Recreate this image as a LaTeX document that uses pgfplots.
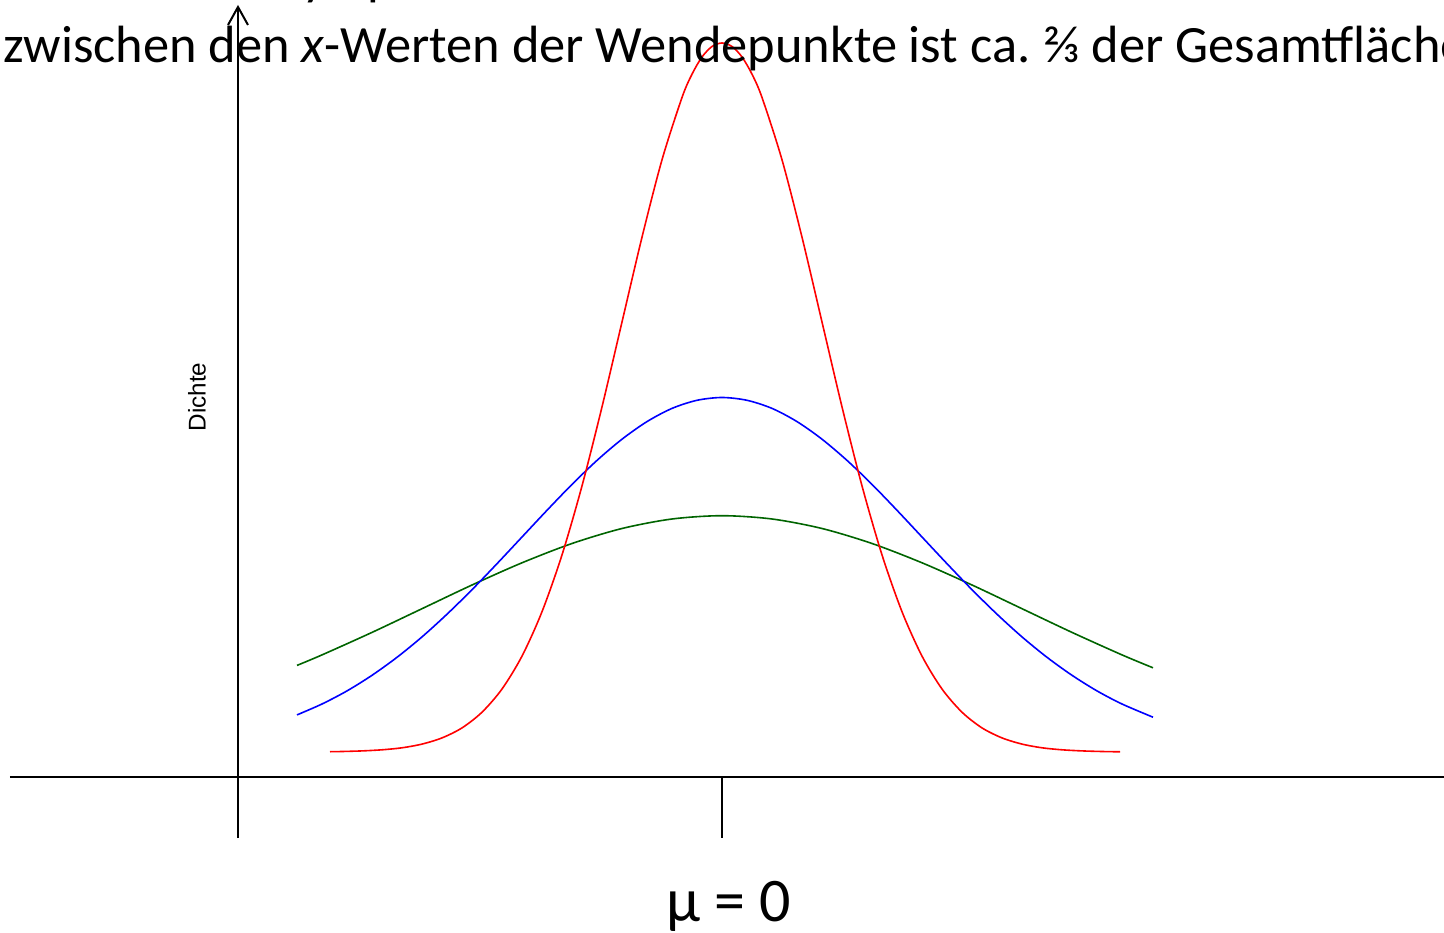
\documentclass[border=0pt]{standalone}
\usepackage{fontspec}
\setmainfont{Carlito}
\newfontfamily\arialfont{Liberation Sans}
\usepackage{pgfplots}
\pgfplotsset{compat=1.18}
\definecolor{rred}{RGB}{255,0,0}
\definecolor{rblue}{RGB}{0,0,255}
\definecolor{rgreen}{RGB}{0,100,0}
\begin{document}
\begin{tikzpicture}
\begin{axis}[
  at={(111pt,77.5pt)}, anchor=south west,
  x=50pt, y=0.5pt,
  xmin=-5, xmax=5, ymin=0, ymax=760,
  axis lines=none, clip=false,
  ticks=none,
]
% axes drawn as in the reference
\draw[line width=1pt] (axis cs:-7.12,0) -- (axis cs:7.22,0);
\draw[line width=1pt] (axis cs:-4.84,-61) -- (axis cs:-4.84,770);
\draw[line width=1pt] (axis cs:-4.94,752) -- (axis cs:-4.84,770) -- (axis cs:-4.74,752);
\draw[line width=1pt] (axis cs:0,0) -- (axis cs:0,-61);
% green, sigma = 3
\addplot[rgreen, line width=0.8pt, smooth] coordinates {
(-4.25,111.6)(-4.0,122.1)(-3.5,144.6)(-3.0,168.3)(-2.5,192.0)(-2.0,214.2)(-1.5,233.5)(-1.0,248.5)(-0.5,258.0)(0,261.3)
(0.5,258.0)(1.0,248.5)(1.5,233.5)(2.0,214.2)(2.5,192.0)(3.0,168.3)(3.5,144.6)(4.0,122.1)(4.31,109.2)};
% blue, sigma = 2
\addplot[rblue, line width=0.8pt, smooth] coordinates {
(-4.25,62.1)(-4.0,73.0)(-3.75,86.1)(-3.5,101.7)(-3.25,119.7)(-3.0,140.1)(-2.75,162.8)(-2.5,187.3)(-2.25,213.3)(-2.0,240.0)
(-1.75,266.7)(-1.5,292.6)(-1.25,316.6)(-1.0,337.8)(-0.75,355.4)(-0.5,368.6)(-0.25,376.7)(0,379.5)
(0.25,376.7)(0.5,368.6)(0.75,355.4)(1.0,337.8)(1.25,316.6)(1.5,292.6)(1.75,266.7)(2.0,240.0)(2.25,213.3)(2.5,187.3)
(2.75,162.8)(3.0,140.1)(3.25,119.7)(3.5,101.7)(3.75,86.1)(4.0,73.0)(4.31,59.8)};
% red, sigma = 1
\addplot[rred, line width=0.8pt, smooth] coordinates {
(-3.92,25.3)(-3.8,25.5)(-3.6,26.1)(-3.4,27.2)(-3.2,29.2)(-3.0,32.9)(-2.8,39.1)(-2.6,49.1)(-2.4,64.8)(-2.2,88.0)
(-2.0,120.9)(-1.8,165.3)(-1.6,222.1)(-1.4,291.1)(-1.2,370.1)(-1.0,455.0)(-0.8,539.8)(-0.6,617.2)(-0.4,679.5)(-0.3,702.8)
(-0.2,720.0)(-0.1,730.5)(0,734)(0.1,730.5)(0.2,720.0)(0.3,702.8)(0.4,679.5)(0.6,617.2)(0.8,539.8)(1.0,455.0)
(1.2,370.1)(1.4,291.1)(1.6,222.1)(1.8,165.3)(2.0,120.9)(2.2,88.0)(2.4,64.8)(2.6,49.1)(2.8,39.1)(3.0,32.9)
(3.2,29.2)(3.4,27.2)(3.6,26.1)(3.8,25.5)(3.98,25.2)};
\end{axis}
% texts
\node[anchor=base west, inner sep=0pt, font=\fontsize{26.2}{30}\selectfont] at (1.5pt,468.5pt) {Nähert sich asymptotisch der \textit{x}-Achse an. Die Fläche};
\node[anchor=base west, inner sep=0pt, font=\fontsize{26.2}{30}\selectfont] at (1.5pt,434.5pt) {zwischen den \textit{x}-Werten der Wendepunkte ist ca.~⅔ der Gesamtfläche};
\node[anchor=base, inner sep=0pt, font=\fontsize{31}{36}\selectfont] at (364.5pt,5.5pt) {μ = 0};
\node[rotate=90, inner sep=0pt, font=\arialfont\fontsize{12.1}{14}\selectfont] at (98.5pt,267.5pt) {Dichte};
\pgfresetboundingbox
\path[use as bounding box] (0,0) rectangle (722pt,466pt);
\end{tikzpicture}
\end{document}
